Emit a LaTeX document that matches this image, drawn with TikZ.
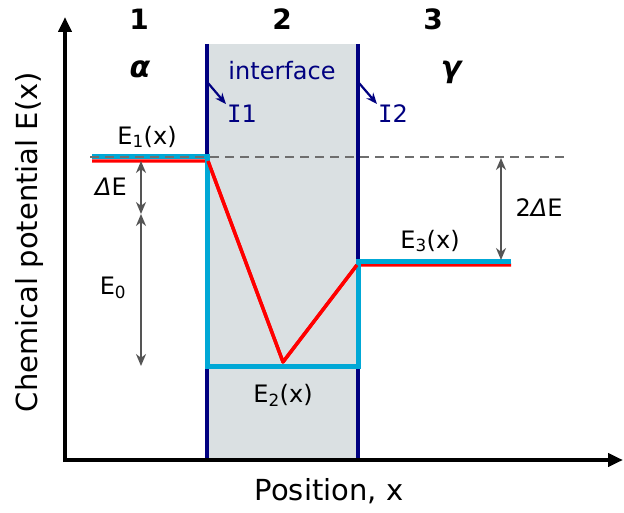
\documentclass[tikz,border=0pt]{standalone}
\usepackage{fontspec}
\setmainfont{DejaVu Sans}
\newfontfamily\serifI{DejaVu Sans Mono}
\usetikzlibrary{arrows.meta}
\definecolor{cyanE}{RGB}{0,168,214}
\definecolor{navyI}{RGB}{0,0,128}
\definecolor{boxfill}{RGB}{218,224,226}
\definecolor{dimgrayA}{RGB}{85,85,85}
\definecolor{dashgray}{RGB}{110,110,110}
\begin{document}
\begin{tikzpicture}[x=1pt,y=-1pt,
  axisline/.style={line width=4.5pt,-{Triangle[length=15pt,width=13pt]}},
  ifaceline/.style={navyI,line width=4pt},
  cyanline/.style={cyanE,line width=5pt,line join=miter},
  redline/.style={red,line width=3.4pt,line join=round},
  refline/.style={dashgray,line width=2.4pt,dash pattern=on 9pt off 6pt},
  dimarrow/.style={dimgrayA,line width=2.5pt,{Stealth[length=12pt,width=10pt]}-{Stealth[length=12pt,width=10pt]}},
  ptrarrow/.style={navyI,line width=2.2pt,-{Stealth[length=11pt,width=9pt]}},
  lbl/.style={inner sep=0pt,font=\fontsize{24}{28}\selectfont},
  title/.style={inner sep=0pt,font=\fontsize{29}{34}\selectfont},
  regnum/.style={inner sep=0pt,font=\fontsize{28}{32}\selectfont\bfseries},
  phase/.style={inner sep=0pt,font=\fontsize{30}{34}\selectfont\bfseries\itshape},
  ilbl/.style={inner sep=0pt,text=navyI,font=\fontsize{24}{28}\selectfont}]
\useasboundingbox (0,0) rectangle (624,513);
% interface region
\fill[boxfill] (207,44) rectangle (358,460);
\draw[ifaceline] (207,44) coordinate (i1top) -- (207,460);
\draw[ifaceline] (358,44) coordinate (i2top) -- (358,460);
% axes
\coordinate (origin) at (65,460);
\coordinate (ytip) at (65,17);
\coordinate (xtip) at (623,460);
\draw[axisline] (65,462) -- (ytip);
\draw[axisline] (63,460) -- (xtip);
% energy levels
\coordinate (r0) at (92,161);
\coordinate (r1) at (208,161);
\coordinate (r2) at (283,362);
\coordinate (r3) at (357,265);
\coordinate (r4) at (511,265);
\draw[redline] (r0) -- (r1) -- (r2) -- (r3) -- (r4);
\coordinate (c0) at (92,157);
\coordinate (c1) at (207,157);
\coordinate (c2) at (207,366);
\coordinate (c3) at (358,366);
\coordinate (c4) at (358,262);
\coordinate (c5) at (511,262);
\draw[cyanline] (c0) -- (c1) -- (c2) -- (c3) -- (c4) -- (c5);
\draw[redline] (r1) -- (r2) -- (r3);
% reference dashed line
\coordinate (d0) at (90,157);
\coordinate (d1) at (568,157);
\draw[refline] (d0) -- (d1);
% dimension arrows
\coordinate (a0) at (141,161);
\coordinate (a1) at (141,214);
\coordinate (a2) at (141,366);
\draw[dimarrow] (a0) -- (a1);
\draw[dimarrow] (a1) -- (a2);
\coordinate (b0) at (501,158);
\coordinate (b1) at (501,260);
\draw[dimarrow] (b0) -- (b1);
% labels
\node[regnum] (n1) at (139,19) {1};
\node[regnum] (n2) at (282,19) {2};
\node[regnum] (n3) at (433,19) {3};
\node[phase] (alpha) at (140,69) {α};
\node[phase] (gamma) at (451,72) {γ};
\node[ilbl] (iface) at (282,71) {interface};
\node[ilbl] (I1) at (242,114) {{\serifI I}1};
\node[ilbl] (I2) at (393,114) {{\serifI I}2};
\coordinate (p1) at (208,83);
\coordinate (p2) at (359,83);
\draw[ptrarrow] (p1) -- ([xshift=-1pt,yshift=1pt]I1.north west);
\draw[ptrarrow] (p2) -- ([xshift=-1pt,yshift=1pt]I2.north west);
\node[lbl] (E1) at (147,137) {E\textsubscript{1}(x)};
\node[lbl] (E2) at (283,395) {E\textsubscript{2}(x)};
\node[lbl] (E3) at (430,241) {E\textsubscript{3}(x)};
\node[lbl] (dE) at (111,187) {{\itshape Δ}E};
\node[lbl] (E0) at (113,288) {E\textsubscript{0}};
\node[lbl] (ddE) at (539,208) {2{\itshape Δ}E};
\node[title] (xlab) at (329,491) {Position, x};
\node[title,rotate=90] (ylab) at (29,242) {Chemical potential E(x)};
\end{tikzpicture}
\end{document}
